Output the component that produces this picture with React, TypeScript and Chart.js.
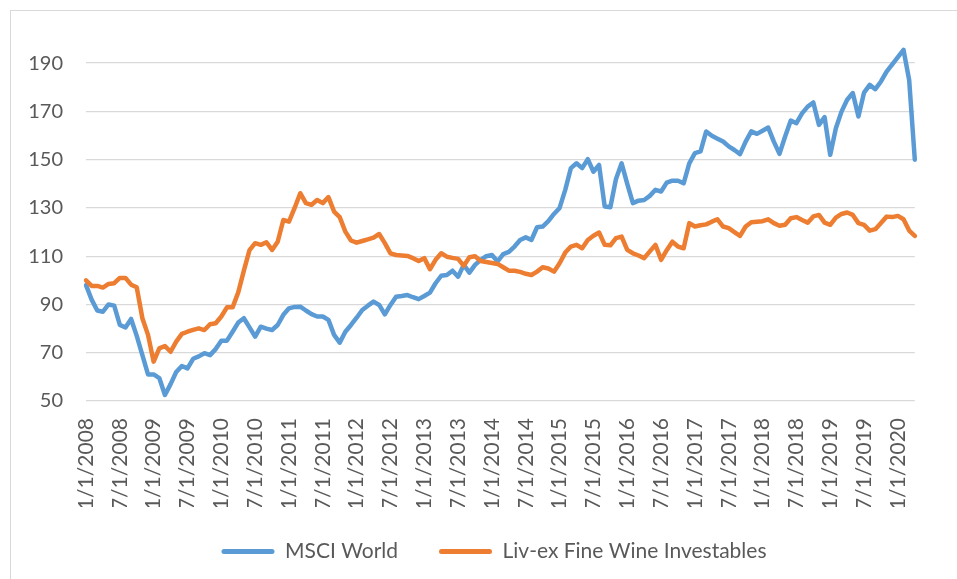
import { useEffect, useRef } from 'react';
import { Chart, registerables } from 'chart.js';

Chart.register(...registerables);

const START_YEAR = 2008;
const MONTH_COUNT = 148;
const TICK_EVERY_MONTHS = 6;
const Y_MIN = 50;
const Y_MAX = 200;
const Y_TICKS = [50, 70, 90, 110, 130, 150, 170, 190];
const SERIES_LABELS = ['MSCI World', 'Liv-ex Fine Wine Investables'];

const MSCI_WORLD = [
  98, 92, 87.5, 87, 90, 89.5, 81.5, 80.5, 84, 77, 69, 61,
  61, 59.5, 52.5, 57, 62, 64.5, 63.5, 67.5, 68.5, 69.8, 69, 71.5,
  75, 75, 78.7, 82.5, 84.3, 80.5, 76.7, 80.8, 80, 79.4, 81.5, 85.7,
  88.4, 89, 89.1, 87.5, 86, 85, 85, 83.6, 77.4, 74.2, 78.7, 81.5,
  84.5, 87.7, 89.5, 91.2, 89.8, 85.9, 89.8, 93.2, 93.5, 93.9, 93, 92.2,
  93.5, 94.9, 98.8, 101.9, 102.2, 104, 101.5, 106.4, 103.2, 106.4, 108.5, 110,
  110.5, 107.8, 110.9, 111.8, 114, 116.7, 117.8, 116.7, 122, 122.3, 124.5, 127.5,
  130, 137.5, 146.5, 148.5, 146.5, 150.2, 145, 147.8, 130.6, 130.3, 142, 148.5,
  140, 132, 133, 133.3, 135, 137.5, 136.8, 140.5, 141.3, 141.3, 140.2, 148.5,
  152.7, 153.4, 161.7, 159.9, 158.7, 157.5, 155.5, 154, 152.3, 157.5, 161.7, 160.7,
  162, 163.3, 157.5, 152.4, 159.6, 166.2, 165.1, 169.2, 172, 173.7, 164.4, 167.6,
  152, 163, 169.9, 174.8, 177.6, 167.9, 177.8, 181, 179.2, 182.4, 186.5, 189.5,
  192.5, 195.5, 183, 150,
];

const LIVEX_FWI = [
  100, 97.7, 97.7, 97, 98.5, 98.8, 101, 101, 98.2, 97.1, 84.3, 77.4,
  66.3, 71.8, 72.8, 70.4, 74.6, 77.8, 78.7, 79.5, 80.1, 79.4, 81.8, 82.2,
  85, 88.8, 88.8, 95, 104, 112.5, 115.4, 114.7, 115.8, 112.6, 116, 125,
  124.3, 130, 136.1, 132, 131.3, 133.3, 132, 134.5, 128.5, 126.2, 120.2, 116.5,
  115.6, 116.3, 117, 117.7, 119.2, 115.4, 111.2, 110.5, 110.3, 110.1, 109.2, 108,
  109.2, 104.6, 108.5, 111.2, 109.8, 109.3, 108.9, 106, 109.6, 110, 108, 107.6,
  107.2, 106.8, 105.4, 104, 104, 103.5, 102.7, 102.2, 103.6, 105.4, 104.9, 103.6,
  107.1, 111.5, 114, 114.7, 113.3, 116.7, 118.5, 119.8, 114.7, 114.5, 117.5, 118.1,
  112.6, 111.2, 110.3, 109.2, 112, 114.7, 108.5, 112.5, 116, 114, 113.3, 123.7,
  122.3, 122.8, 123.2, 124.3, 125.3, 122.3, 121.6, 120, 118.4, 122.3, 124.1, 124.3,
  124.5, 125.3, 123.7, 122.6, 123, 125.7, 126.2, 125, 123.9, 126.5, 127.1, 123.9,
  123, 126, 127.5, 128.1, 127.1, 123.7, 123, 120.6, 121.2, 123.8, 126.4, 126.2,
  126.7, 125.3, 120.6, 118.4,
];

const MONTH_LABELS = Array.from(
  { length: MONTH_COUNT },
  (_, i) => `${(i % 12) + 1}/1/${START_YEAR + Math.floor(i / 12)}`
);

const BLUE = '#5B9BD5';
const ORANGE = '#ED7D31';
const TEXT = '#595959';
const GRID = '#d9d9d9';
const FONT = 'Lato, "Open Sans", sans-serif';

// nudges the legend block to where the reference places it
const legendNudge = {
  id: 'legendNudge',
  afterLayout(chart: any) {
    const lg = chart.legend;
    if (!lg) return;
    const dx = 494 - (lg.left + lg.right) / 2;
    lg.left += dx;
    lg.right += dx;
    const dy = -7;
    lg.top += dy;
    lg.bottom += dy;
  },
};

export default function App() {
  const ref = useRef<HTMLCanvasElement>(null);

  useEffect(() => {
    const canvas = ref.current;
    if (!canvas) return;
    const chart = new Chart(canvas, {
      type: 'line',
      data: {
        labels: MONTH_LABELS,
        datasets: [
          {
            label: SERIES_LABELS[0],
            data: MSCI_WORLD,
            borderColor: BLUE,
            backgroundColor: BLUE,
            borderWidth: 4.5,
            pointRadius: 0,
            tension: 0,
            borderJoinStyle: 'round',
            borderCapStyle: 'round',
            order: 1,
          },
          {
            label: SERIES_LABELS[1],
            data: LIVEX_FWI,
            borderColor: ORANGE,
            backgroundColor: ORANGE,
            borderWidth: 4.5,
            pointRadius: 0,
            tension: 0,
            borderJoinStyle: 'round',
            borderCapStyle: 'round',
            order: 0,
          },
        ],
      },
      options: {
        animation: false,
        responsive: true,
        maintainAspectRatio: false,
        layout: { padding: { left: 20, right: 16, top: 39, bottom: 0 } },
        plugins: {
          tooltip: { enabled: false },
          legend: {
            position: 'bottom',
            labels: {
              color: TEXT,
              font: { family: FONT, size: 21 },
              boxWidth: 53,
              boxHeight: 5,
              padding: 41,
              sort: (a: any, b: any) => a.datasetIndex - b.datasetIndex,
              generateLabels: (c: any) =>
                Chart.defaults.plugins.legend.labels
                  .generateLabels(c)
                  .map((l: any) => ({ ...l, lineWidth: 0, fillStyle: l.strokeStyle, borderRadius: 2.5 })),
            },
          },
        },
        scales: {
          x: {
            type: 'category',
            grid: { display: false, drawTicks: false },
            border: { display: false },
            ticks: {
              autoSkip: false,
              minRotation: 90,
              maxRotation: 90,
              padding: 17,
              color: TEXT,
              font: { family: FONT, size: 21 },
              callback: (_v: any, i: number) => (i % TICK_EVERY_MONTHS === 0 ? MONTH_LABELS[i] : ''),
            },
            afterFit: (s: any) => {
              s.height = 106;
            },
          },
          y: {
            min: Y_MIN,
            max: Y_MAX,
            grid: { color: GRID, lineWidth: 1.3, drawTicks: false },
            border: { display: false },
            ticks: {
              padding: 23,
              color: TEXT,
              font: { family: FONT, size: 20 },
            },
            afterBuildTicks: (s: any) => {
              s.ticks = Y_TICKS.map((v) => ({ value: v }));
            },
            afterFit: (s: any) => {
              s.width = 66;
            },
          },
        },
      },
      plugins: [legendNudge],
    });
    return () => chart.destroy();
  }, []);

  return (
    <div style={{ position: 'fixed', left: 0, top: 0, width: 957, height: 579, background: '#fff' }}>
      <canvas ref={ref} style={{ display: 'block' }} />
      <div
        style={{
          position: 'absolute',
          left: 10,
          top: 10,
          right: 0,
          bottom: 0,
          borderLeft: `1px solid ${GRID}`,
          borderTop: `1px solid ${GRID}`,
          pointerEvents: 'none',
        }}
      />
    </div>
  );
}
